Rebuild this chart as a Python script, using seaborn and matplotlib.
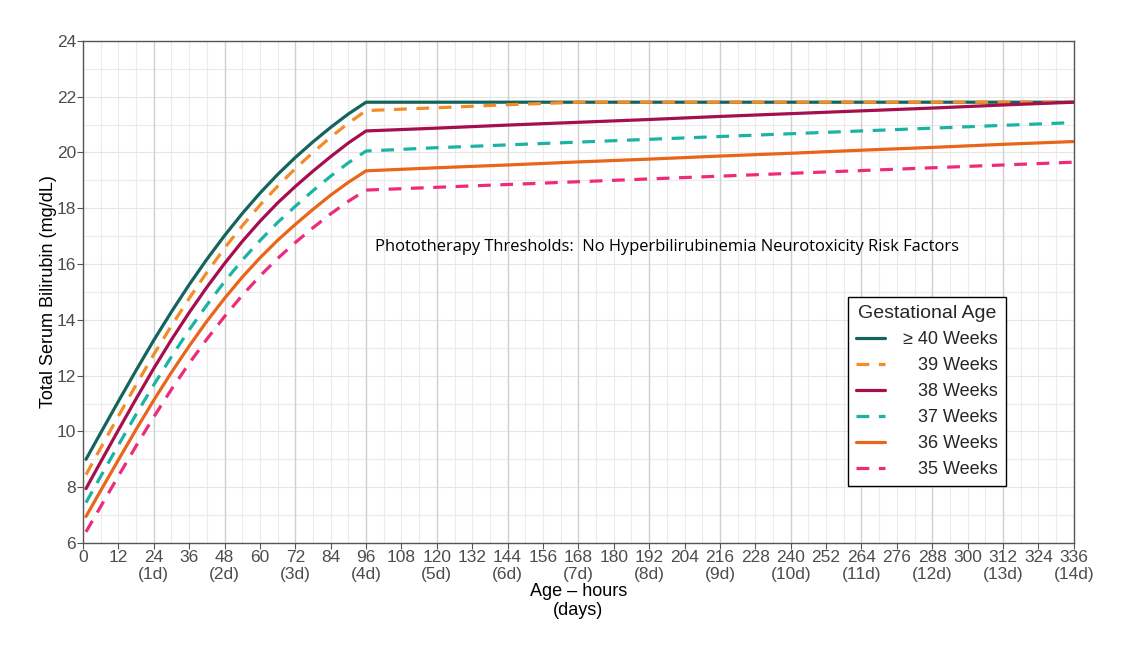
import pandas as pd
import seaborn as sns
import matplotlib.pyplot as plt
from matplotlib.ticker import MultipleLocator

hours = [1, 6, 12, 18, 24, 30, 36, 42, 48, 54, 60, 66, 72, 78, 84, 90, 96,
         120, 144, 168, 192, 216, 240, 264, 288, 312, 336]

ga_40 = [9.0, 9.95, 11.08, 12.19, 13.27, 14.29, 15.26, 16.17, 17.02, 17.81, 18.54, 19.21,
         19.82, 20.38, 20.9, 21.38, 21.8,
         21.8, 21.8, 21.8, 21.8, 21.8, 21.8, 21.8, 21.8, 21.8, 21.8]
ga_39 = [8.45, 9.41, 10.55, 11.67, 12.76, 13.79, 14.77, 15.7, 16.57, 17.37, 18.11, 18.79,
         19.42, 20.0, 20.55, 21.05, 21.5,
         21.6, 21.71, 21.8, 21.8, 21.8, 21.8, 21.8, 21.8, 21.8, 21.8]
ga_38 = [7.95, 8.91, 10.05, 11.17, 12.26, 13.29, 14.26, 15.17, 16.02, 16.81, 17.53, 18.19,
         18.78, 19.33, 19.85, 20.34, 20.77,
         20.87, 20.98, 21.08, 21.18, 21.29, 21.39, 21.49, 21.59, 21.7, 21.8]
ga_37 = [7.45, 8.39, 9.51, 10.61, 11.67, 12.68, 13.64, 14.53, 15.37, 16.14, 16.84, 17.49,
         18.07, 18.63, 19.15, 19.63, 20.05,
         20.17, 20.27, 20.37, 20.47, 20.57, 20.67, 20.77, 20.87, 20.97, 21.07]
ga_36 = [6.95, 7.88, 8.98, 10.07, 11.12, 12.12, 13.06, 13.95, 14.77, 15.53, 16.22, 16.85,
         17.42, 17.96, 18.47, 18.93, 19.34,
         19.45, 19.55, 19.66, 19.76, 19.87, 19.97, 20.08, 20.18, 20.29, 20.39]
ga_35 = [6.4, 7.31, 8.4, 9.48, 10.52, 11.51, 12.44, 13.31, 14.12, 14.88, 15.57, 16.2,
         16.77, 17.3, 17.8, 18.25, 18.65,
         18.75, 18.85, 18.95, 19.05, 19.15, 19.25, 19.35, 19.45, 19.55, 19.65]

labels = ['\u2265 40 Weeks', '   39 Weeks', '   38 Weeks', '   37 Weeks', '   36 Weeks', '   35 Weeks']
series = [ga_40, ga_39, ga_38, ga_37, ga_36, ga_35]
colors = ['#13655c', '#f28c28', '#a50f4d', '#1bb3a3', '#e8651a', '#ee2b7b']
styles = ['-', (0, (4, 3)), '-', (0, (4, 3)), '-', (0, (4, 3))]

sns.set_theme(style='white')
plt.rcParams['font.family'] = ['Liberation Sans', 'DejaVu Sans']

fig = plt.figure(figsize=(11.22, 6.48), dpi=100)
ax = fig.add_axes([0.074, 0.162, 0.883, 0.775])

for lab, vals, col, ls in zip(labels, series, colors, styles):
    df = pd.DataFrame({'hour': hours, 'tsb': vals})
    sns.lineplot(data=df, x='hour', y='tsb', ax=ax, color=col, linestyle=ls,
                 linewidth=2.3, label=lab)

ax.set_xlim(0, 336)
ax.set_ylim(6, 24)

# grid
ax.xaxis.set_major_locator(MultipleLocator(12))
ax.xaxis.set_minor_locator(MultipleLocator(6))
ax.yaxis.set_major_locator(MultipleLocator(2))
ax.yaxis.set_minor_locator(MultipleLocator(1))
ax.grid(which='minor', axis='both', color='#ebebeb', linewidth=0.8)
ax.grid(which='major', axis='y', color='#e6e6e6', linewidth=0.8)
for h in range(24, 336, 24):
    ax.axvline(h, color='#d0d0d0', linewidth=1.0, zorder=0.6)
for h in range(12, 336, 24):
    ax.axvline(h, color='#ebebeb', linewidth=0.8, zorder=0.5)
ax.set_axisbelow(True)

xt = list(range(0, 337, 12))
xl = [f'{h}\n({h // 24}d)' if h % 24 == 0 and h > 0 else str(h) for h in xt]
ax.set_xticks(xt)
ax.set_xticklabels(xl)
for t in ax.get_xticklabels():
    t.set_linespacing(1.15)

ax.tick_params(axis='both', which='major', length=4, width=0.8, color='#555555',
               labelsize=12.5, labelcolor='#4d4d4d', pad=1, bottom=True, left=True)
ax.tick_params(which='minor', length=0)
for s in ax.spines.values():
    s.set_color('#555555')
    s.set_linewidth(1.0)

ax.set_xlabel('Age \u2013 hours\n(days)', fontsize=13, color='black', labelpad=1, linespacing=1.15)
ax.set_ylabel('Total Serum Bilirubin (mg/dL)', fontsize=13, color='black', labelpad=0)

ax.text(99, 16.6, 'Phototherapy Thresholds:  No Hyperbilirubinemia Neurotoxicity Risk Factors',
        fontsize=11.9, family=['Open Sans', 'DejaVu Sans'], va='center', ha='left', color='black')

leg = ax.legend(title='Gestational Age', loc='upper left', bbox_to_anchor=(0.772, 0.49),
                borderaxespad=0, frameon=True, fancybox=False, framealpha=1, edgecolor='black',
                fontsize=13, title_fontsize=14, handlelength=1.6, handletextpad=1.0,
                labelspacing=0.5, borderpad=0.45)
leg.get_frame().set_linewidth(1.0)

fig.savefig('out.png', dpi=100)
